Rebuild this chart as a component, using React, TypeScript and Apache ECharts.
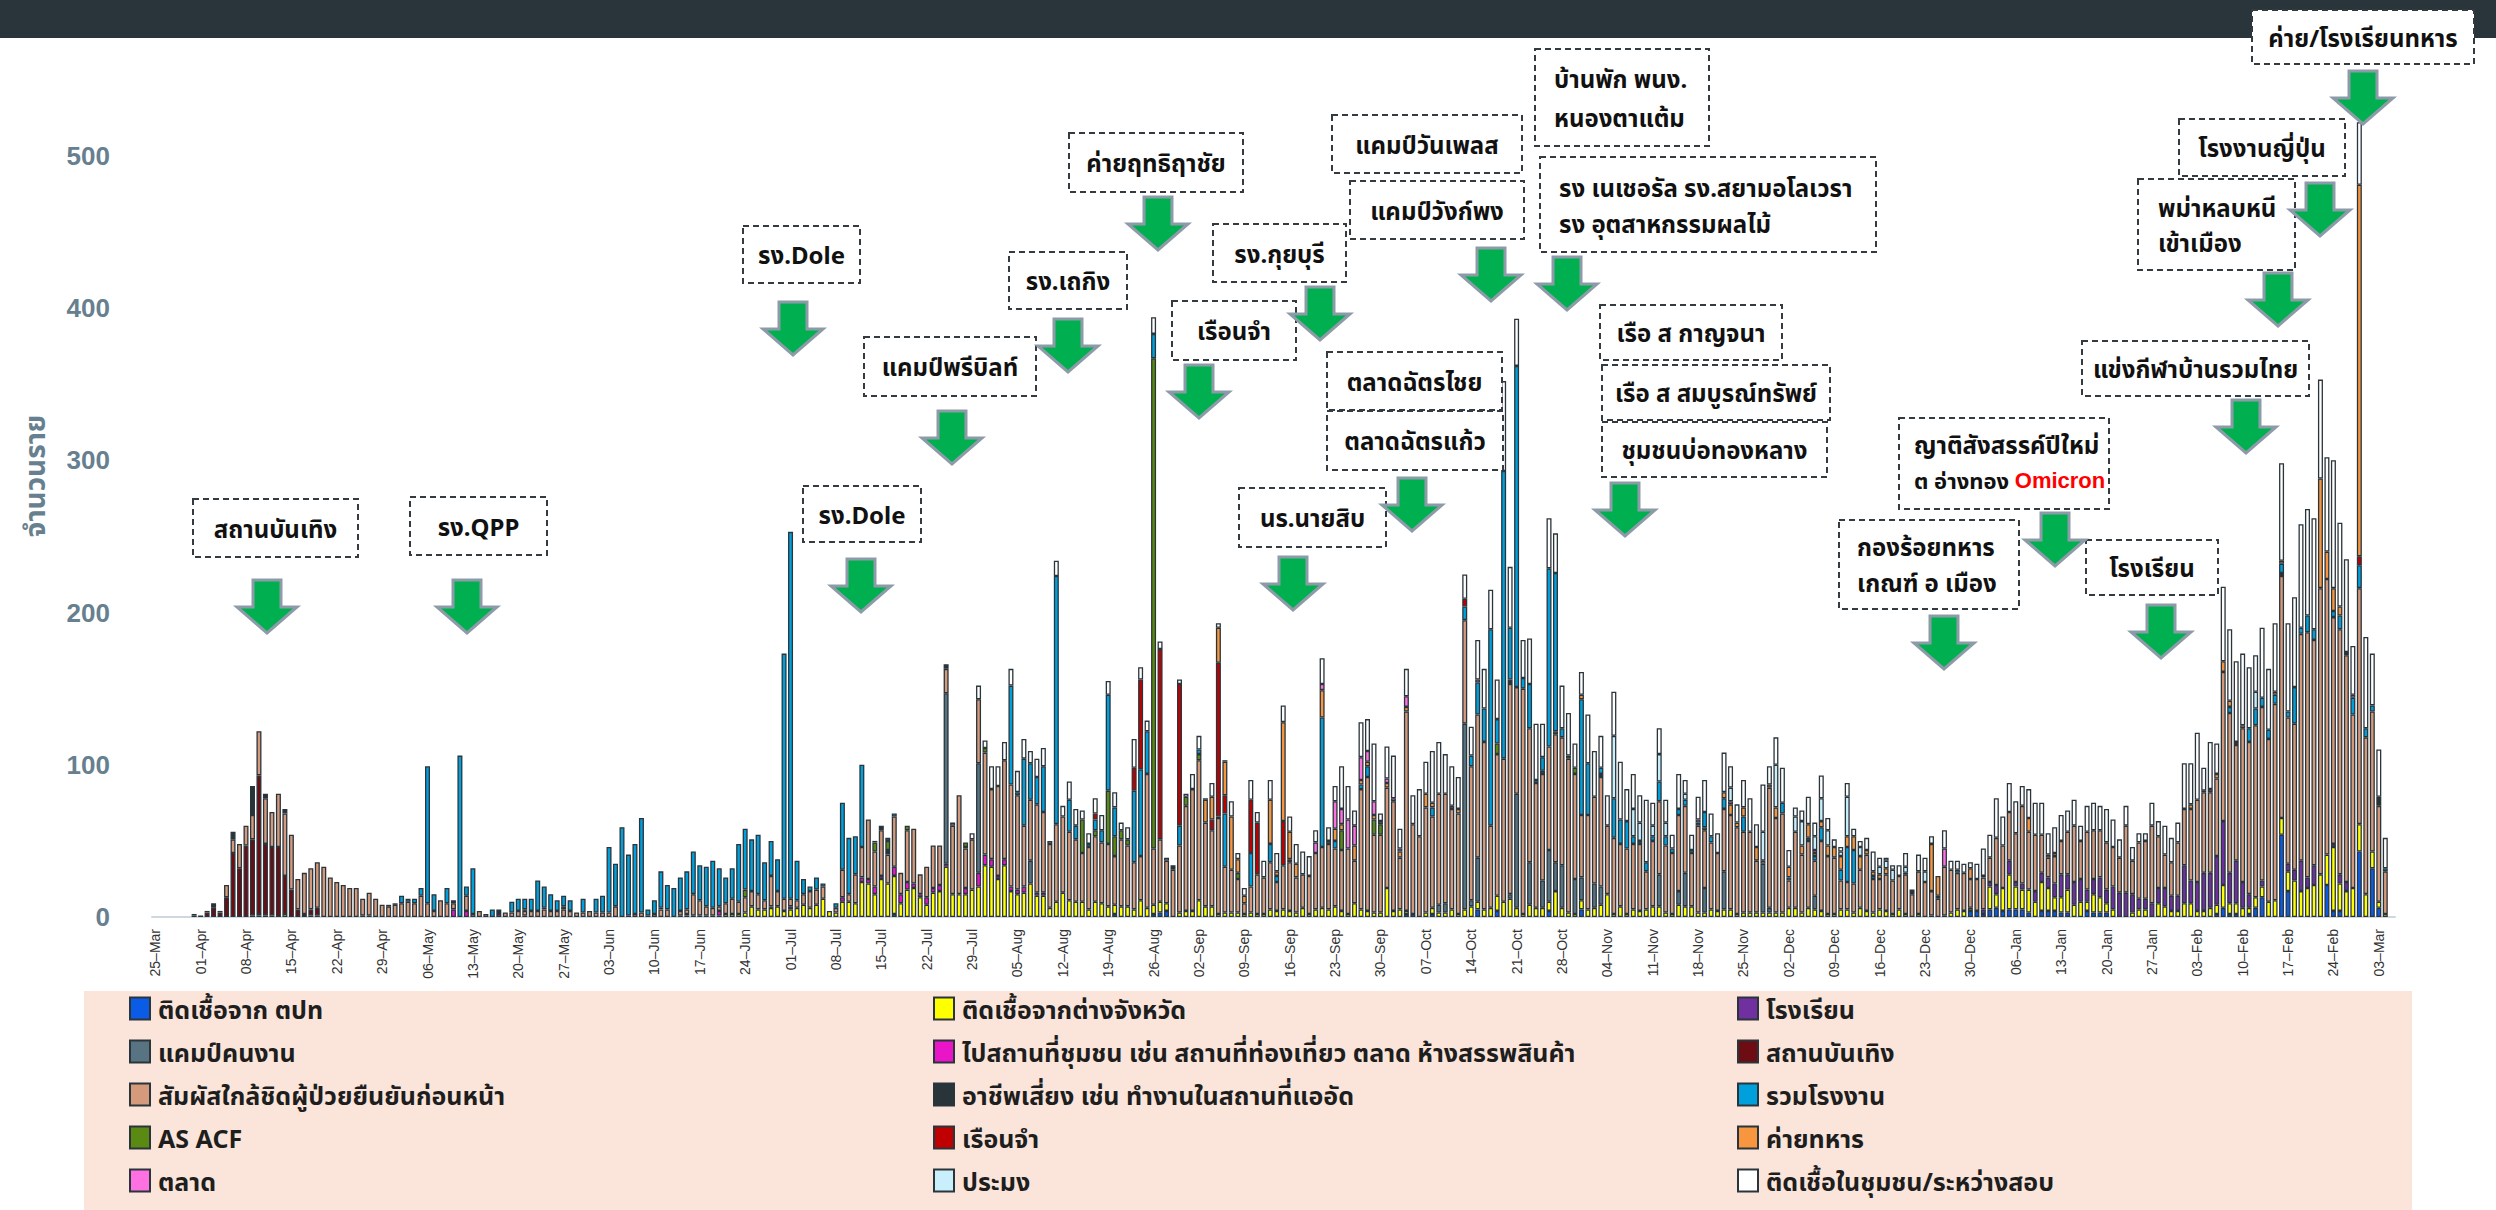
import React, { useEffect, useRef } from "react";
import * as echarts from "echarts";

// ---------- categories (daily, 25-Mar-2021 .. 05-Mar-2022) ----------
const START_DATE = Date.UTC(2021, 2, 25);
const DAY_COUNT = 346;
const MONTH_ABBR = ["Jan", "Feb", "Mar", "Apr", "May", "Jun", "Jul", "Aug", "Sep", "Oct", "Nov", "Dec"];
const categories: string[] = Array.from({ length: DAY_COUNT }, (_, i) => {
  const d = new Date(START_DATE + i * 86400000);
  return String(d.getUTCDate()).padStart(2, "0") + "–" + MONTH_ABBR[d.getUTCMonth()];
});

// ---------- dense series (one value per day) ----------
const closeContact = [
  0, 0, 0, 0, 0, 0, 0, 0, 0, 0,
  0, 8, 9, 16, 13, 16, 29, 30, 23, 35,
  41, 36, 20, 27, 27, 30, 33, 26, 23, 21,
  19, 19, 11, 15, 12, 8, 7, 8, 9, 10,
  9, 14, 9, 4, 11, 9, 4, 0, 10, 2,
  4, 2, 0, 0, 3, 3, 4, 3, 4, 4,
  5, 4, 4, 5, 4, 3, 3, 4, 3, 3,
  3, 7, 0, 1, 2, 3, 1, 2, 5, 5,
  0, 3, 3, 14, 10, 6, 5, 3, 7, 10,
  8, 10, 10, 10, 6, 20, 10, 8, 5, 5,
  7, 11, 10, 8, 0, 3, 18, 5, 19, 20,
  39, 23, 30, 19, 33, 14, 34, 36, 13, 20,
  28, 26, 16, 45, 65, 26, 33, 42, 67, 46,
  59, 65, 67, 62, 40, 40, 58, 53, 42, 51,
  50, 45, 41, 32, 41, 43, 40, 41, 32, 44,
  40, 31, 29, 88, 37, 41, 28, 31, 44, 69,
  80, 92, 55, 50, 63, 30, 28, 22, 7, 17,
  26, 24, 31, 19, 29, 32, 23, 22, 25, 37,
  40, 43, 38, 40, 43, 28, 79, 88, 51, 51,
  66, 72, 34, 131, 59, 53, 69, 60, 73, 72,
  66, 66, 68, 88, 94, 110, 54, 93, 94, 138,
  70, 148, 88, 82, 70, 68, 84, 84, 101, 69,
  41, 62, 57, 72, 45, 50, 41, 43, 43, 44,
  25, 43, 48, 44, 40, 50, 44, 35, 57, 38,
  44, 38, 41, 62, 57, 53, 53, 34, 2, 79,
  62, 65, 18, 50, 38, 44, 23, 46, 38, 37,
  19, 18, 19, 25, 37, 22, 20, 24, 22, 22,
  26, 15, 28, 23, 16, 12, 32, 28, 24, 25,
  19, 21, 21, 16, 31, 28, 32, 32, 51, 38,
  37, 25, 13, 18, 22, 28, 37, 25, 38, 32,
  31, 31, 26, 23, 44, 22, 37, 38, 51, 34,
  22, 22, 35, 37, 47, 54, 53, 53, 51, 98,
  105, 76, 101, 100, 113, 114, 107, 129, 159, 96,
  96, 149, 161, 148, 188, 181, 149, 161, 149, 114,
  155, 103, 92, 63, 28, 0,
];

const otherProvince = [
  0, 0, 0, 0, 0, 0, 0, 0, 0, 0,
  0, 0, 0, 0, 0, 0, 1, 1, 1, 0,
  2, 0, 0, 0, 1, 0, 0, 0, 0, 0,
  0, 0, 1, 1, 0, 0, 0, 0, 0, 0,
  0, 0, 0, 0, 0, 0, 0, 0, 0, 0,
  0, 0, 0, 0, 0, 0, 0, 1, 0, 0,
  0, 0, 0, 0, 0, 0, 0, 0, 0, 0,
  0, 0, 0, 0, 0, 0, 0, 0, 0, 0,
  0, 1, 1, 1, 1, 1, 1, 1, 2, 2,
  2, 3, 7, 5, 5, 6, 7, 4, 5, 6,
  8, 6, 8, 12, 4, 3, 10, 10, 9, 23,
  22, 15, 25, 22, 25, 9, 18, 19, 13, 8,
  16, 17, 33, 15, 15, 15, 18, 20, 34, 33,
  25, 34, 17, 15, 16, 22, 14, 14, 6, 10,
  16, 11, 10, 10, 5, 10, 9, 7, 6, 7,
  7, 5, 11, 6, 6, 7, 5, 0, 3, 4,
  4, 11, 7, 7, 2, 3, 3, 3, 2, 3,
  2, 2, 5, 4, 5, 4, 3, 6, 2, 5,
  6, 5, 7, 4, 2, 9, 5, 4, 3, 3,
  19, 4, 5, 2, 0, 0, 3, 4, 3, 3,
  5, 2, 5, 7, 5, 5, 6, 10, 10, 12,
  6, 2, 8, 6, 6, 6, 17, 6, 3, 2,
  6, 5, 6, 8, 15, 2, 7, 2, 5, 4,
  5, 7, 7, 3, 2, 8, 7, 7, 3, 3,
  5, 4, 5, 5, 2, 3, 3, 3, 3, 3,
  3, 3, 6, 6, 3, 6, 5, 4, 2, 2,
  5, 5, 3, 6, 4, 3, 5, 4, 2, 5,
  2, 0, 2, 0, 1, 0, 1, 3, 5, 4,
  2, 0, 0, 15, 9, 15, 23, 15, 13, 15,
  10, 19, 15, 9, 10, 15, 8, 10, 6, 12,
  10, 6, 5, 0, 0, 3, 5, 5, 0, 9,
  7, 4, 4, 9, 9, 4, 4, 6, 6, 15,
  7, 7, 6, 4, 7, 7, 10, 11, 11, 13,
  24, 17, 19, 21, 28, 20, 42, 18, 17, 19,
  18, 15, 11, 4, 2, 0,
];

const factory = [
  0, 0, 0, 0, 0, 0, 0, 0, 0, 0,
  0, 0, 0, 0, 0, 0, 0, 0, 0, 0,
  0, 0, 0, 0, 0, 0, 0, 0, 0, 0,
  0, 0, 0, 0, 0, 0, 1, 1, 5, 2,
  3, 5, 90, 11, 0, 10, 0, 106, 6, 30,
  0, 0, 5, 0, 0, 7, 8, 7, 8, 20,
  14, 11, 7, 7, 7, 0, 9, 0, 9, 11,
  43, 28, 59, 40, 46, 62, 4, 9, 24, 16,
  19, 22, 25, 28, 23, 26, 31, 25, 17, 20,
  38, 40, 34, 39, 25, 23, 21, 161, 241, 26,
  10, 3, 8, 2, 0, 3, 44, 37, 25, 54,
  0, 1, 0, 2, 2, 0, 0, 0, 0, 0,
  0, 0, 0, 0, 0, 0, 0, 0, 0, 0,
  0, 0, 65, 2, 44, 24, 18, 30, 0, 163,
  0, 21, 9, 0, 2, 7, 8, 63, 19, 0,
  0, 47, 57, 28, 16, 0, 0, 0, 13, 0,
  0, 3, 0, 0, 1, 35, 0, 0, 0, 22,
  0, 0, 12, 4, 0, 0, 0, 0, 0, 0,
  85, 0, 5, 0, 0, 0, 3, 7, 0, 0,
  0, 0, 0, 0, 0, 0, 0, 6, 0, 0,
  0, 0, 9, 7, 21, 22, 129, 16, 189, 34,
  211, 7, 29, 2, 9, 117, 104, 6, 0, 0,
  76, 34, 0, 4, 0, 26, 16, 18, 5, 2,
  6, 3, 13, 6, 3, 4, 4, 2, 2, 10,
  4, 0, 7, 0, 0, 10, 0, 0, 0, 0,
  0, 7, 2, 0, 0, 2, 3, 9, 0, 0,
  7, 23, 22, 0, 0, 2, 0, 0, 0, 0,
  0, 0, 0, 0, 0, 0, 0, 0, 2, 0,
  0, 0, 0, 0, 0, 0, 0, 0, 0, 0,
  0, 0, 0, 0, 0, 0, 0, 0, 0, 0,
  0, 0, 0, 0, 0, 0, 0, 0, 0, 0,
  0, 0, 0, 0, 0, 0, 0, 0, 0, 0,
  4, 0, 0, 9, 11, 6, 6, 6, 6, 4,
  24, 4, 11, 7, 0, 0, 4, 9, 0, 11,
  15, 6, 4, 0, 2, 0,
];

const community = [
  0, 0, 0, 0, 0, 0, 0, 0, 0, 0,
  0, 0, 0, 0, 0, 0, 0, 0, 0, 0,
  0, 0, 0, 0, 0, 0, 0, 0, 0, 0,
  0, 0, 0, 0, 0, 0, 0, 0, 0, 0,
  0, 0, 0, 0, 0, 0, 0, 0, 0, 0,
  0, 0, 0, 0, 0, 0, 0, 0, 0, 0,
  0, 0, 0, 0, 0, 0, 0, 0, 0, 0,
  0, 0, 0, 0, 0, 0, 0, 0, 0, 0,
  0, 0, 0, 0, 0, 0, 0, 0, 0, 0,
  0, 0, 0, 0, 0, 0, 0, 0, 0, 0,
  0, 0, 0, 0, 0, 0, 0, 0, 0, 0,
  0, 0, 0, 0, 0, 0, 0, 0, 0, 0,
  0, 0, 0, 2, 0, 0, 4, 9, 5, 15,
  13, 12, 11, 14, 13, 8, 12, 12, 2, 10,
  7, 12, 11, 6, 7, 10, 10, 9, 10, 5,
  8, 19, 8, 7, 11, 5, 2, 0, 3, 2,
  10, 9, 1, 9, 3, 1, 10, 4, 5, 13,
  7, 11, 13, 12, 11, 10, 13, 15, 13, 8,
  17, 9, 10, 28, 22, 10, 23, 21, 38, 5,
  21, 28, 13, 18, 19, 31, 21, 34, 34, 26,
  26, 21, 16, 19, 26, 26, 26, 26, 59, 40,
  31, 25, 30, 37, 22, 33, 26, 28, 28, 16,
  15, 32, 30, 21, 20, 29, 38, 21, 23, 18,
  41, 15, 17, 15, 9, 23, 9, 10, 15, 21,
  15, 13, 26, 14, 12, 18, 22, 15, 31, 12,
  18, 23, 11, 6, 7, 18, 9, 15, 8, 5,
  3, 9, 5, 4, 8, 13, 6, 2, 3, 7,
  9, 0, 11, 9, 5, 0, 12, 6, 6, 6,
  4, 10, 18, 15, 26, 19, 19, 21, 13, 19,
  21, 21, 14, 17, 17, 14, 17, 10, 17, 18,
  16, 22, 18, 12, 13, 9, 6, 5, 15, 10,
  19, 16, 13, 30, 27, 44, 15, 31, 20, 49,
  47, 53, 47, 40, 24, 46, 40, 45, 64, 58,
  59, 68, 70, 73, 65, 62, 84, 55, 61, 32,
  41, 60, 34, 31, 20, 0,
];

// ---------- sparse series: [day index from 25-Mar-2021, cases] ----------
const abroad: [number, number][] = [[114, 2], [148, 2], [154, 2], [155, 3], [156, 4], [193, 2], [194, 2], [197, 2], [204, 5], [207, 4], [215, 4], [220, 5], [280, 4], [281, 4], [282, 2], [283, 5], [284, 6], [285, 4], [286, 5], [287, 5], [288, 5], [289, 3], [291, 4], [292, 4], [293, 4], [294, 3], [295, 3], [298, 4], [299, 3], [300, 3], [301, 3], [318, 2], [319, 6], [320, 2], [321, 2], [323, 2], [324, 6], [325, 13], [328, 54], [329, 17], [335, 21], [336, 4], [337, 4], [340, 43], [342, 32], [343, 6]];
const school: [number, number][] = [[282, 3], [283, 3], [284, 6], [286, 9], [287, 3], [288, 4], [290, 7], [291, 6], [292, 7], [293, 9], [294, 15], [295, 10], [296, 15], [297, 15], [298, 8], [299, 10], [300, 13], [301, 9], [302, 15], [303, 16], [304, 16], [305, 12], [306, 7], [307, 7], [308, 9], [309, 10], [310, 12], [311, 10], [312, 10], [313, 25], [314, 15], [315, 19], [316, 25], [317, 23], [318, 32], [319, 42], [320, 20], [321, 28], [322, 17], [323, 9], [325, 4], [329, 5], [330, 7], [331, 20], [332, 7], [333, 13], [336, 2], [337, 6], [338, 6]];
const publicPlace: [number, number][] = [[15, 1], [16, 1], [25, 1], [46, 5], [48, 4], [53, 2], [82, 1], [87, 3], [95, 1], [98, 2], [106, 3], [109, 3], [110, 3], [111, 5], [112, 2], [114, 6], [115, 6], [116, 5], [117, 3], [118, 2], [119, 5], [120, 3], [121, 4], [122, 2], [125, 4], [127, 9], [128, 7], [129, 5], [130, 2], [131, 4], [132, 3], [133, 3], [134, 4], [136, 2], [137, 2]];
const entertainment: [number, number][] = [[6, 1], [7, 1], [8, 3], [9, 6], [10, 3], [11, 13], [12, 42], [13, 32], [14, 47], [15, 50], [16, 91], [17, 47], [18, 45], [19, 46], [20, 25], [21, 18], [22, 5], [23, 2], [24, 4], [25, 5]];
const workerCamp: [number, number][] = [[122, 112], [127, 72], [135, 15], [198, 5], [199, 6], [202, 122], [203, 4], [204, 29], [209, 3], [210, 75], [212, 28], [214, 18], [215, 34], [216, 19], [217, 28], [219, 23], [220, 15], [222, 16], [223, 12], [232, 21], [235, 9], [236, 22], [239, 16], [242, 25], [248, 32], [249, 3], [256, 9]];
const riskyJob: [number, number][] = [[6, 1], [8, 1], [9, 3], [10, 1], [12, 5], [15, 19], [17, 3], [20, 3], [46, 2], [53, 3], [112, 3], [113, 3], [122, 3], [125, 1], [157, 3], [209, 3], [223, 2], [271, 3], [275, 2], [328, 2], [338, 2], [343, 6]];
const asAcf: [number, number][] = [[57, 1], [60, 1], [63, 2], [78, 1], [91, 5], [111, 6], [113, 6], [116, 3], [125, 3], [128, 3], [143, 22], [145, 4], [147, 35], [148, 13], [149, 6], [150, 4], [154, 322], [159, 6], [161, 4], [167, 4], [183, 13], [188, 10], [189, 7], [207, 7], [214, 2], [216, 2], [218, 2], [219, 4], [239, 2]];
const prison: [number, number][] = [[145, 4], [151, 15], [152, 59], [155, 125], [158, 93], [163, 7], [164, 101], [165, 12], [169, 35], [170, 34], [174, 29], [175, 2], [202, 5], [321, 2], [340, 6]];
const militaryCamp: [number, number][] = [[162, 15], [163, 15], [164, 23], [165, 22], [166, 35], [167, 9], [168, 5], [172, 29], [173, 3], [174, 65], [175, 18], [176, 9], [180, 18], [181, 2], [182, 8], [183, 4], [185, 10], [186, 3], [187, 3], [188, 3], [190, 3], [192, 4], [193, 3], [196, 9], [197, 3], [201, 3], [220, 3], [242, 4], [243, 7], [244, 3], [245, 6], [247, 9], [249, 2], [250, 7], [252, 7], [254, 6], [255, 9], [256, 2], [257, 4], [258, 7], [259, 7], [260, 9], [261, 7], [262, 9], [263, 9], [264, 3], [265, 3], [266, 3], [267, 4], [274, 31], [275, 13], [280, 7], [289, 9], [292, 2], [293, 2], [314, 3], [318, 3], [319, 7], [320, 4], [322, 2], [327, 2], [328, 2], [334, 72], [335, 18], [336, 15], [337, 6], [340, 244]];
const market: [number, number][] = [[179, 7], [180, 4], [182, 18], [183, 10], [184, 19], [185, 13], [186, 15], [187, 7], [188, 9], [189, 2], [190, 3], [191, 2], [192, 2], [193, 7], [200, 2], [204, 2], [238, 2], [243, 2], [256, 2], [270, 1], [276, 12], [282, 1], [316, 1], [317, 2], [339, 2]];
const fishery: [number, number][] = [[225, 41], [228, 18], [229, 12], [231, 7], [232, 18], [233, 9], [236, 4], [243, 9], [248, 19], [250, 28], [253, 10], [254, 16], [256, 9], [257, 15], [258, 10], [260, 3], [261, 26], [263, 6], [266, 5], [267, 5], [268, 7], [270, 4], [273, 7], [324, 11]];

function fromPairs(pairs: [number, number][]): (number | null)[] {
  const out: (number | null)[] = new Array(DAY_COUNT).fill(null);
  pairs.forEach(([d, v]) => { out[d] = v; });
  return out;
}
function fromDense(vals: number[]): (number | null)[] {
  return vals.map((v) => (v === 0 ? null : v));
}

// stacking order bottom -> top
const SERIES = [
  { name: "ติดเชื้อจาก ตปท", color: "#0a5ce6", data: fromPairs(abroad) },
  { name: "ติดเชื้อจากต่างจังหวัด", color: "#ffff00", data: fromDense(otherProvince) },
  { name: "โรงเรียน", color: "#7030a0", data: fromPairs(school) },
  { name: "ไปสถานที่ชุมชน เช่น สถานที่ท่องเที่ยว ตลาด ห้างสรรพสินค้า", color: "#ea14c8", data: fromPairs(publicPlace) },
  { name: "สถานบันเทิง", color: "#6d0c12", data: fromPairs(entertainment) },
  { name: "แคมป์คนงาน", color: "#587482", data: fromPairs(workerCamp) },
  { name: "สัมผัสใกล้ชิดผู้ป่วยยืนยันก่อนหน้า", color: "#d49a7b", data: fromDense(closeContact) },
  { name: "อาชีพเสี่ยง เช่น ทำงานในสถานที่แออัด", color: "#29333a", data: fromPairs(riskyJob) },
  { name: "AS ACF", color: "#5a8a12", data: fromPairs(asAcf) },
  { name: "รวมโรงงาน", color: "#00a0dc", data: fromDense(factory) },
  { name: "เรือนจำ", color: "#c00000", data: fromPairs(prison) },
  { name: "ค่ายทหาร", color: "#f7963f", data: fromPairs(militaryCamp) },
  { name: "ตลาด", color: "#ff70e0", data: fromPairs(market) },
  { name: "ประมง", color: "#c8effb", data: fromPairs(fishery) },
  { name: "ติดเชื้อในชุมชน/ระหว่างสอบ", color: "#ffffff", data: fromDense(community) },
];

const LEGEND_COLUMNS = [
  ["ติดเชื้อจาก ตปท", "แคมป์คนงาน", "สัมผัสใกล้ชิดผู้ป่วยยืนยันก่อนหน้า", "AS ACF", "ตลาด"],
  ["ติดเชื้อจากต่างจังหวัด", "ไปสถานที่ชุมชน เช่น สถานที่ท่องเที่ยว ตลาด ห้างสรรพสินค้า", "อาชีพเสี่ยง เช่น ทำงานในสถานที่แออัด", "เรือนจำ", "ประมง"],
  ["โรงเรียน", "สถานบันเทิง", "รวมโรงงาน", "ค่ายทหาร", "ติดเชื้อในชุมชน/ระหว่างสอบ"],
];
const LEGEND_LEFT = [129, 933, 1737];

// ---------- annotations (layout) ----------
type Box = { x1: number; y1: number; x2: number; y2: number; lines: string[]; tx?: number; ty?: number[] };
const BOXES: Box[] = [
  { x1: 193, y1: 499, x2: 358, y2: 557, lines: ["สถานบันเทิง"] },
  { x1: 410, y1: 497, x2: 547, y2: 555, lines: ["รง.QPP"] },
  { x1: 743, y1: 226, x2: 860, y2: 283, lines: ["รง.Dole"] },
  { x1: 803, y1: 486, x2: 921, y2: 542, lines: ["รง.Dole"] },
  { x1: 864, y1: 337, x2: 1036, y2: 396, lines: ["แคมป์พรีบิลท์"] },
  { x1: 1009, y1: 252, x2: 1127, y2: 309, lines: ["รง.เถกิง"] },
  { x1: 1069, y1: 133, x2: 1243, y2: 192, lines: ["ค่ายฤทธิฤาชัย"] },
  { x1: 1172, y1: 301, x2: 1296, y2: 360, lines: ["เรือนจำ"] },
  { x1: 1213, y1: 224, x2: 1346, y2: 282, lines: ["รง.กุยบุรี"] },
  { x1: 1332, y1: 115, x2: 1522, y2: 173, lines: ["แคมป์วันเพลส"] },
  { x1: 1350, y1: 181, x2: 1524, y2: 239, lines: ["แคมป์วังก์พง"] },
  { x1: 1535, y1: 49, x2: 1709, y2: 146, lines: ["บ้านพัก พนง.", "หนองตาแต้ม"], tx: 1554, ty: [78, 117] },
  { x1: 1540, y1: 157, x2: 1876, y2: 252, lines: ["รง เนเชอรัล รง.สยามอโลเวรา", "รง อุตสาหกรรมผลไม้"], tx: 1559, ty: [187, 223] },
  { x1: 1327, y1: 352, x2: 1502, y2: 410, lines: ["ตลาดฉัตรไชย"] },
  { x1: 1327, y1: 411, x2: 1503, y2: 470, lines: ["ตลาดฉัตรแก้ว"] },
  { x1: 1239, y1: 488, x2: 1386, y2: 547, lines: ["นร.นายสิบ"] },
  { x1: 1600, y1: 305, x2: 1782, y2: 360, lines: ["เรือ ส กาญจนา"] },
  { x1: 1602, y1: 365, x2: 1830, y2: 420, lines: ["เรือ ส สมบูรณ์ทรัพย์"] },
  { x1: 1602, y1: 422, x2: 1827, y2: 477, lines: ["ชุมชนบ่อทองหลาง"] },
  { x1: 1839, y1: 520, x2: 2019, y2: 609, lines: ["กองร้อยทหาร", "เกณฑ์ อ เมือง"], tx: 1857, ty: [546, 582] },
  { x1: 1899, y1: 418, x2: 2109, y2: 509, lines: ["ญาติสังสรรค์ปีใหม่", "{a|ต อ่างทอง }{r|Omicron}"], tx: 1914, ty: [444, 480] },
  { x1: 2086, y1: 540, x2: 2218, y2: 595, lines: ["โรงเรียน"] },
  { x1: 2082, y1: 341, x2: 2309, y2: 396, lines: ["แข่งกีฬาบ้านรวมไทย"] },
  { x1: 2138, y1: 179, x2: 2295, y2: 270, lines: ["พม่าหลบหนี", "เข้าเมือง"], tx: 2158, ty: [207, 242] },
  { x1: 2179, y1: 119, x2: 2345, y2: 176, lines: ["โรงงานญี่ปุ่น"] },
  { x1: 2252, y1: 10, x2: 2474, y2: 64, lines: ["ค่าย/โรงเรียนทหาร"] },
];
const ARROWS: [number, number][] = [
  [267, 580], [467, 580], [793, 302], [861, 559], [952, 411], [1068, 319], [1158, 197],
  [1199, 365], [1320, 287], [1491, 248], [1567, 257], [1412, 478], [1293, 557], [1625, 483],
  [1944, 616], [2055, 513], [2161, 605], [2246, 400], [2278, 273], [2320, 183], [2363, 71],
];

const THAI_FONT = "'Noto Sans', 'Noto Sans Thai', 'Noto Sans Thai Looped', Loma, sans-serif";
const BOX_FONT_SIZE = 24;

function buildGraphics(): any[] {
  const g: any[] = [];
  g.push({ type: "rect", z: 0, shape: { x: 0, y: 0, width: 2496, height: 38 }, style: { fill: "#29343b" } });
  g.push({ type: "rect", z: 0, shape: { x: 84, y: 991, width: 2328, height: 219 }, style: { fill: "#fbe5da" } });
  g.push({
    type: "text", z: 5, x: 34, y: 476, rotation: Math.PI / 2,
    style: { text: "จำนวนราย", fontSize: 28, fontWeight: "bold", fontFamily: THAI_FONT, fill: "#67808f", align: "center", verticalAlign: "middle" },
  });
  BOXES.forEach((b) => {
    g.push({
      type: "rect", z: 50,
      shape: { x: b.x1, y: b.y1, width: b.x2 - b.x1, height: b.y2 - b.y1 },
      style: { fill: "#ffffff", stroke: "#333b40", lineWidth: 2, lineDash: [6, 4] },
    });
    if (b.lines.length === 1) {
      g.push({
        type: "text", z: 51, x: (b.x1 + b.x2) / 2, y: (b.y1 + b.y2) / 2,
        style: { text: b.lines[0], fontSize: BOX_FONT_SIZE, fontWeight: "bold", fontFamily: THAI_FONT, fill: "#111", align: "center", verticalAlign: "middle" },
      });
    } else {
      b.lines.forEach((ln, i) => {
        g.push({
          type: "text", z: 51, x: b.tx, y: b.ty![i],
          style: {
            text: ln, fontSize: BOX_FONT_SIZE, fontWeight: "bold", fontFamily: THAI_FONT, fill: "#111", align: "left", verticalAlign: "middle",
            rich: {
              a: { fontSize: 22, fontWeight: "bold", fontFamily: THAI_FONT, fill: "#111" },
              r: { fontSize: 22, fontWeight: "bold", fontFamily: "'Liberation Sans', Arial, sans-serif", fill: "#ff0000" },
            },
          },
        });
      });
    }
  });
  ARROWS.forEach(([cx, top]) => {
    g.push({
      type: "polygon", z: 52,
      shape: {
        points: [
          [cx - 14, top], [cx + 14, top], [cx + 14, top + 27], [cx + 30, top + 27],
          [cx, top + 53], [cx - 30, top + 27], [cx - 14, top + 27],
        ],
      },
      style: { fill: "#00b050", stroke: "#8d9ba8", lineWidth: 3 },
    });
  });
  return g;
}

export default function App() {
  const ref = useRef<HTMLDivElement>(null);
  useEffect(() => {
    if (!ref.current) return;
    const chart = echarts.init(ref.current, undefined, { renderer: "svg" });
    chart.setOption({
      animation: false,
      backgroundColor: "#ffffff",
      grid: { left: 152, right: 101, top: 34, bottom: 293, containLabel: false },
      xAxis: {
        type: "category",
        data: categories,
        axisLine: { lineStyle: { color: "#cfd8dc", width: 2 } },
        axisTick: { show: false },
        axisLabel: {
          interval: 6, rotate: 90, fontSize: 14, color: "#333333", margin: 12,
          fontFamily: "'Liberation Sans', Arial, sans-serif",
        },
      },
      yAxis: {
        type: "value", min: 0, max: 580, interval: 100,
        splitLine: { show: false }, axisLine: { show: false }, axisTick: { show: false },
        axisLabel: {
          showMaxLabel: false, fontSize: 26, fontWeight: "bold", color: "#67808f", margin: 42,
          fontFamily: "'Liberation Sans', Arial, sans-serif",
        },
      },
      legend: LEGEND_COLUMNS.map((names, i) => ({
        data: names,
        orient: "vertical",
        left: LEGEND_LEFT[i],
        top: 996,
        height: 210,
        itemWidth: 20,
        itemHeight: 22,
        itemGap: 18,
        padding: 0,
        selectedMode: false,
        icon: "rect",
        itemStyle: { borderColor: "#2a343b", borderWidth: 2 },
        textStyle: { fontSize: 25, fontWeight: "bold", color: "#1e1e1e", fontFamily: THAI_FONT, lineHeight: 22, padding: [0, 0, 0, 3] },
      })),
      graphic: buildGraphics(),
      series: SERIES.map((s) => ({
        type: "bar",
        name: s.name,
        stack: "total",
        data: s.data,
        barWidth: 5,
        itemStyle: { color: s.color, borderColor: "#2a343b", borderWidth: 1.3 },
        emphasis: { disabled: true },
      })),
    });
    return () => chart.dispose();
  }, []);
  return <div ref={ref} style={{ position: "absolute", left: 0, top: 0, width: 2496, height: 1210 }} />;
}
